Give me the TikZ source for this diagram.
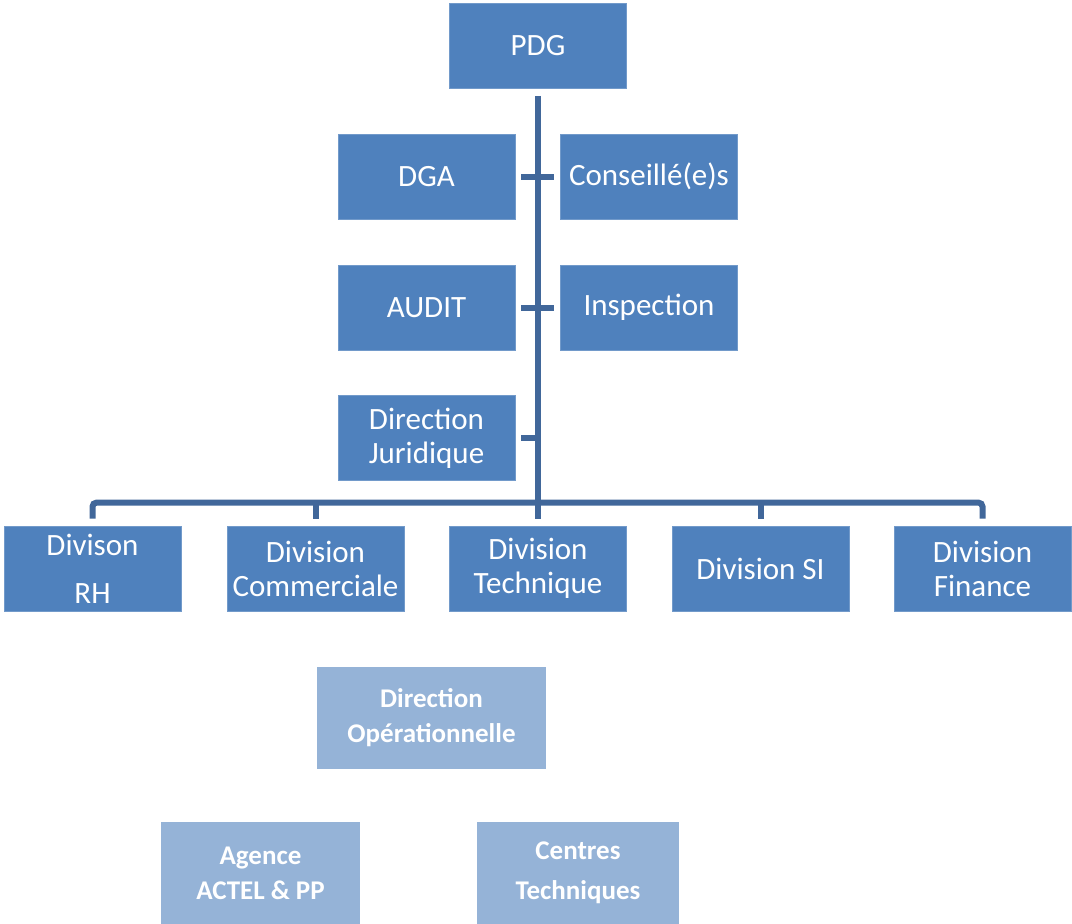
\documentclass[tikz,border=0pt]{standalone}
\usepackage{fontspec}
\setmainfont{Carlito}
\definecolor{boxblue}{HTML}{4F81BD}
\definecolor{lightblue}{HTML}{95B3D7}
\definecolor{linkblue}{HTML}{41679A}
\tikzset{
  unit/.style={rectangle, fill=boxblue, draw=boxblue!80!white, line width=0.8pt,
    text=white, align=center, inner sep=0pt,
    minimum width=177pt, minimum height=85pt,
    font=\fontsize{31}{34}\selectfont},
  opunit/.style={rectangle, fill=lightblue, text=white, align=center, inner sep=0pt,
    minimum height=102pt, font=\fontsize{27}{35}\selectfont\bfseries},
  link/.style={draw=linkblue, line width=6pt},
}
\begin{document}
\begin{tikzpicture}[x=1pt, y=-1pt]
\useasboundingbox (0,0) rectangle (1072,924);

% top management
\node[unit] (pdg)  at (538,46)    {PDG};
\node[unit] (dga)  at (426.5,176.5) {DGA};
\node[unit] (cons) at (649,176.5) {Conseillé(e)s};
\node[unit] (aud)  at (426.5,307.5) {AUDIT};
\node[unit] (insp) at (649,307.5) {Inspection};
\node[unit] (jur)  at (426.5,438) {Direction\\Juridique};

% divisions
\node[unit, font=\fontsize{31}{48}\selectfont] (rh) at (92.5,568.5) {Divison\\RH};
\node[unit] (comm) at (315.5,568.5) {Division\\Commerciale};
\node[unit] (tech) at (538,568.5)   {Division\\Technique};
\node[unit] (si)   at (760.5,568.5) {Division SI};
\node[unit] (fin)  at (982.5,568.5) {Division\\Finance};

% operational units
\node[opunit, minimum width=229pt] (op)   at (431.5,718) {Direction\\Opérationnelle};
\node[opunit, minimum width=199pt] (ag)   at (260.5,873) {Agence\\ACTEL \& PP};
\node[opunit, minimum width=202pt, font=\fontsize{27}{40}\selectfont\bfseries] (ctr) at (578,873) {Centres\\Techniques};

% main trunk
\draw[link] ([yshift=-7pt]pdg.south) -- ([yshift=7pt]tech.north);
% staff ties
\draw[link] ([xshift=6pt]dga.east) -- ([xshift=-6pt]cons.west);
\draw[link] ([xshift=6pt]aud.east) -- ([xshift=-6pt]insp.west);
\draw[link] ([xshift=6pt]jur.east) -- (jur.east -| tech.north);
% division bus
\draw[link, rounded corners=4pt] ([yshift=7pt]rh.north) |- ([yshift=23pt]fin.north) -- ([yshift=7pt]fin.north);
\draw[link] ([yshift=23pt]comm.north) -- ([yshift=7pt]comm.north);
\draw[link] ([yshift=23pt]si.north) -- ([yshift=7pt]si.north);
\end{tikzpicture}
\end{document}
